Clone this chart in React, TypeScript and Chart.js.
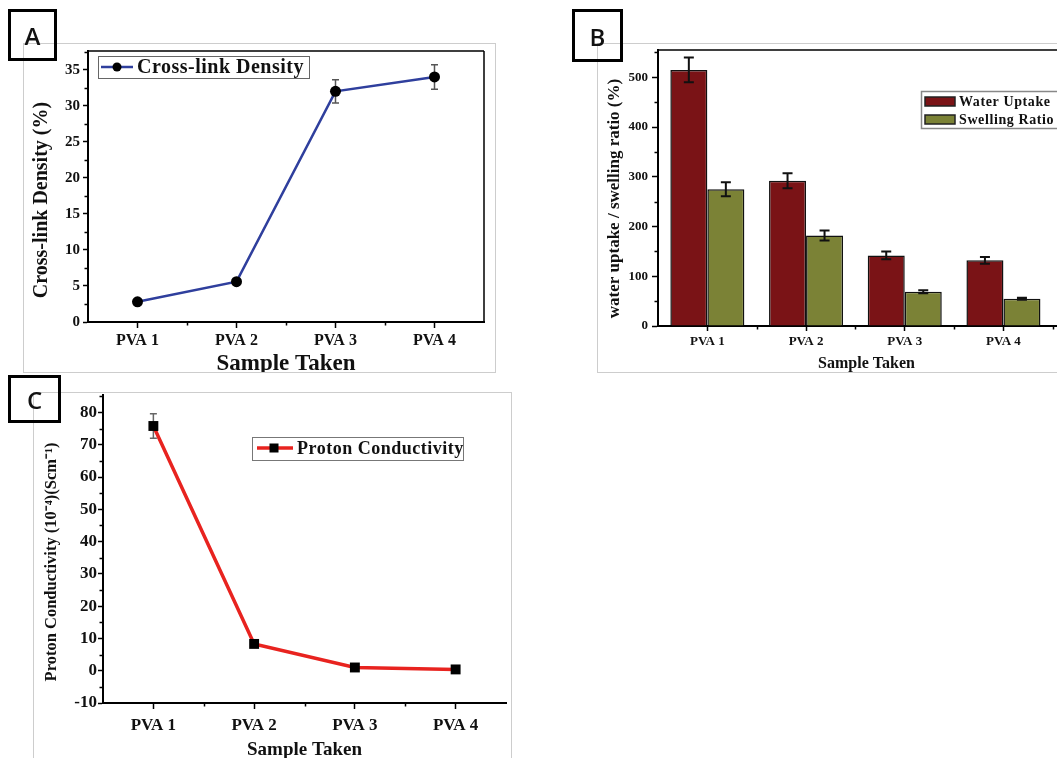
import React, { useEffect, useRef } from 'react';
import { Chart, registerables } from 'chart.js';

Chart.register(...registerables);

const SERIF = "'Liberation Serif', 'Times New Roman', Times, serif";

// ---------- data ----------
const samples = ['PVA 1', 'PVA 2', 'PVA 3', 'PVA 4'];

// Panel A
const crossLinkDensity = [2.8, 5.6, 32.0, 34.0];
const crossLinkError = [0.3, 0.3, 1.6, 1.7];

// Panel B
const waterUptake = [515, 292, 142, 132];
const waterUptakeError = [25, 15, 8, 7];
const swellingRatio = [275, 182, 69, 55];
const swellingRatioError = [14, 10, 3, 2];

// Panel C
const protonConductivity = [75.8, 8.3, 1.0, 0.4];
const protonConductivityError = [3.8, 0.4, 0.3, 0.2];

// Axis titles
const titleA = 'Cross-link Density (%)';
const titleB = 'water uptake / swelling ratio (%)';
const titleC = 'Proton Conductivity (10\u207B\u2074)(Scm\u207B\u00B9)';
const xTitle = 'Sample Taken';

// ---------- helpers ----------
const bold = (size: number) => ({ family: SERIF, size, weight: 'bold' as const, lineHeight: 1.2 });

const errorBarPlugin = {
  id: 'errorBars',
  beforeDatasetsDraw(chart: any, _a: any, opts: any) {
    if (opts && opts.layer === 'before') drawErrorBars(chart, opts);
  },
  afterDatasetsDraw(chart: any, _a: any, opts: any) {
    if (opts && opts.layer === 'after') drawErrorBars(chart, opts);
  },
};

function drawErrorBars(chart: any, opts: any) {
  const ctx = chart.ctx;
  const ys = chart.scales.y;
  chart.data.datasets.forEach((ds: any, di: number) => {
    const errs = ds.errors;
    if (!errs) return;
    const meta = chart.getDatasetMeta(di);
    meta.data.forEach((el: any, i: number) => {
      const raw = ds.data[i];
      const v = typeof raw === 'number' ? raw : raw.y;
      const x = el.x;
      const yTop = ys.getPixelForValue(v + errs[i]);
      const yBot = ys.getPixelForValue(v - errs[i]);
      ctx.save();
      ctx.strokeStyle = opts.color;
      ctx.lineWidth = opts.width;
      ctx.beginPath();
      ctx.moveTo(x, yBot);
      ctx.lineTo(x, yTop);
      ctx.moveTo(x - opts.cap, yTop);
      ctx.lineTo(x + opts.cap, yTop);
      ctx.moveTo(x - opts.cap, yBot);
      ctx.lineTo(x + opts.cap, yBot);
      ctx.stroke();
      ctx.restore();
    });
  });
}

const minorTickPlugin = {
  id: 'minorTicks',
  afterDraw(chart: any, _a: any, opts: any) {
    if (!opts || !opts.yStep) return;
    const { ctx, chartArea: ca } = chart;
    const ys = chart.scales.y;
    const xs = chart.scales.x;
    ctx.save();
    ctx.strokeStyle = '#000';
    ctx.lineWidth = opts.width;
    ctx.beginPath();
    const start = Math.ceil(ys.min / opts.yStep) * opts.yStep;
    for (let v = start; v <= ys.max + 1e-9; v += opts.yStep) {
      const r = v / opts.yMajor;
      if (Math.abs(r - Math.round(r)) < 1e-6) continue;
      const py = Math.round(ys.getPixelForValue(v)) + 0.5;
      ctx.moveTo(ca.left - opts.len, py);
      ctx.lineTo(ca.left, py);
    }
    (opts.xValues || []).forEach((xv: number) => {
      const px = Math.round(xs.getPixelForValue(xv)) + 0.5;
      ctx.moveTo(px, ca.bottom);
      ctx.lineTo(px, ca.bottom + opts.len);
    });
    ctx.stroke();
    ctx.restore();
  },
};

const framePlugin = {
  id: 'plotFrame',
  afterDraw(chart: any, _a: any, opts: any) {
    if (!opts || (!opts.top && !opts.right)) return;
    const { ctx, chartArea: ca } = chart;
    ctx.save();
    ctx.strokeStyle = '#000';
    ctx.lineWidth = opts.width;
    ctx.beginPath();
    if (opts.top) {
      ctx.moveTo(ca.left, ca.top);
      ctx.lineTo(ca.right, ca.top);
    }
    if (opts.right) {
      ctx.moveTo(ca.right, ca.top);
      ctx.lineTo(ca.right, ca.bottom);
    }
    ctx.stroke();
    ctx.restore();
  },
};

const yTitlePlugin = {
  id: 'yTitle',
  afterDraw(chart: any, _a: any, opts: any) {
    if (!opts || !opts.text) return;
    const ctx = chart.ctx;
    ctx.save();
    ctx.translate(opts.cx, opts.cy);
    ctx.rotate(-Math.PI / 2);
    ctx.fillStyle = '#111';
    ctx.font = `bold ${opts.size}px ${SERIF}`;
    ctx.textAlign = 'center';
    ctx.textBaseline = 'middle';
    ctx.fillText(opts.text, 0, 0);
    ctx.restore();
  },
};

const boxLegendPlugin = {
  id: 'boxLegend',
  afterDraw(chart: any, _a: any, opts: any) {
    if (!opts || !opts.entries) return;
    const ctx = chart.ctx;
    ctx.save();
    ctx.fillStyle = '#fff';
    ctx.fillRect(opts.x, opts.y, opts.w, opts.h);
    ctx.strokeStyle = opts.borderColor;
    ctx.lineWidth = opts.borderWidth;
    ctx.strokeRect(opts.x, opts.y, opts.w, opts.h);
    opts.entries.forEach((e: any, i: number) => {
      const ds = chart.data.datasets[i];
      if (e.kind === 'line') {
        ctx.strokeStyle = ds.borderColor;
        ctx.lineWidth = ds.borderWidth;
        ctx.beginPath();
        ctx.moveTo(e.x0, e.cy);
        ctx.lineTo(e.x1, e.cy);
        ctx.stroke();
        ctx.fillStyle = '#000';
        if (e.marker === 'circle') {
          ctx.beginPath();
          ctx.arc(e.mx, e.cy, e.ms, 0, Math.PI * 2);
          ctx.fill();
        } else {
          ctx.fillRect(e.mx - e.ms, e.cy - e.ms, e.ms * 2, e.ms * 2);
        }
      } else {
        ctx.fillStyle = ds.backgroundColor;
        ctx.fillRect(e.x0, e.cy - e.sh / 2, e.x1 - e.x0, e.sh);
        ctx.strokeStyle = '#222';
        ctx.lineWidth = 1.5;
        ctx.strokeRect(e.x0, e.cy - e.sh / 2, e.x1 - e.x0, e.sh);
      }
      ctx.fillStyle = '#111';
      ctx.font = `bold ${opts.fontSize}px ${SERIF}`;
      (ctx as any).letterSpacing = `${opts.spacing}px`;
      ctx.textBaseline = 'middle';
      ctx.textAlign = 'left';
      ctx.fillText(ds.label, e.tx, e.cy + 1);
      (ctx as any).letterSpacing = '0px';
    });
    ctx.restore();
  },
};

function axisX(titleText: string, tickSize: number, titleSize: number, tickLen: number, tickPad: number, titleBottom: number, height: number) {
  return {
    border: { display: true, color: '#000', width: 2 },
    grid: { display: true, drawOnChartArea: false, drawTicks: true, offset: false, tickLength: tickLen, tickColor: '#000', tickWidth: 1.5, color: '#000' },
    ticks: { color: '#111', font: bold(tickSize), padding: tickPad, maxRotation: 0, autoSkip: false },
    title: { display: true, text: titleText, color: '#111', font: bold(titleSize), padding: { top: 0, bottom: titleBottom } },
    afterFit: (s: any) => { s.height = height; s.paddingLeft = 0; s.paddingRight = 0; },
  };
}

function axisY(min: number, max: number, step: number, tickSize: number, tickLen: number, tickPad: number, width: number) {
  return {
    min, max,
    border: { display: true, color: '#000', width: 2 },
    grid: { display: true, drawOnChartArea: false, drawTicks: true, tickLength: tickLen, tickColor: '#000', tickWidth: 1.5, color: '#000' },
    ticks: { stepSize: step, includeBounds: false, color: '#111', font: bold(tickSize), padding: tickPad },
    title: { display: false },
    afterFit: (s: any) => { s.width = width; s.paddingTop = 0; s.paddingBottom = 0; },
  };
}

const basePlugins = { legend: { display: false }, tooltip: { enabled: false }, title: { display: false } };
const chartPlugins = [errorBarPlugin, minorTickPlugin, framePlugin, boxLegendPlugin, yTitlePlugin];

function buildA(): any {
  return {
    type: 'line',
    data: {
      labels: samples,
      datasets: [{
        label: 'Cross-link Density',
        data: crossLinkDensity,
        errors: crossLinkError,
        borderColor: '#2f3f9d',
        borderWidth: 2.5,
        pointStyle: 'circle',
        pointRadius: 5.5,
        pointBackgroundColor: '#000',
        pointBorderColor: '#000',
        pointBorderWidth: 0,
        tension: 0,
      }],
    },
    plugins: chartPlugins,
    options: {
      animation: false, responsive: false, maintainAspectRatio: false,
      layout: { autoPadding: false, padding: { top: 7, right: 12, left: 0, bottom: 0 } },
      plugins: {
        ...basePlugins,
        errorBars: { layer: 'before', color: '#555', width: 1.5, cap: 3.5 },
        minorTicks: { yStep: 2.5, yMajor: 5, len: 3.5, width: 1.5, xValues: samples.slice(1).map((_, i) => i + 0.5) },
        plotFrame: { top: true, right: true, width: 1.5 },
        yTitle: { text: titleA, cx: 18, cy: 156, size: 20 },
        boxLegend: {
          x: 74.5, y: 12.5, w: 211, h: 22, borderColor: '#666', borderWidth: 1, fontSize: 20, spacing: 0.5,
          entries: [{ kind: 'line', x0: 77, x1: 109, cy: 23, marker: 'circle', mx: 93, ms: 4.5, tx: 113 }],
        },
      },
      scales: {
        x: { type: 'category', offset: true, ...axisX(xTitle, 16, 23, 6, 3, 6, 62) },
        y: axisY(0, 37.6, 5, 15, 5, 3, 64),
      },
    },
  };
}

function buildB(): any {
  return {
    type: 'bar',
    data: {
      datasets: [
        {
          label: 'Water Uptake',
          data: waterUptake.map((v, i) => ({ x: i + 1, y: v })),
          errors: waterUptakeError,
          backgroundColor: '#7a1316',
          borderColor: '#111',
          borderWidth: 1.5,
          categoryPercentage: 0.75,
          barPercentage: 1,
        },
        {
          label: 'Swelling Ratio',
          data: swellingRatio.map((v, i) => ({ x: i + 1, y: v })),
          errors: swellingRatioError,
          backgroundColor: '#7b8236',
          borderColor: '#111',
          borderWidth: 1.5,
          categoryPercentage: 0.75,
          barPercentage: 1,
        },
      ],
    },
    plugins: chartPlugins,
    options: {
      animation: false, responsive: false, maintainAspectRatio: false,
      layout: { autoPadding: false, padding: { top: 6, right: 5, left: 0, bottom: 0 } },
      plugins: {
        ...basePlugins,
        errorBars: { layer: 'after', color: '#111', width: 2, cap: 5 },
        minorTicks: { yStep: 50, yMajor: 100, len: 3.5, width: 1.5, xValues: samples.map((_, i) => i + 1.5) },
        plotFrame: { top: true, right: true, width: 1.5 },
        yTitle: { text: titleB, cx: 17, cy: 154.5, size: 17 },
        boxLegend: {
          x: 323.5, y: 47.5, w: 160, h: 37, borderColor: '#888', borderWidth: 1.5, fontSize: 14, spacing: 0.6,
          entries: [
            { kind: 'swatch', x0: 327, x1: 357, cy: 57.5, sh: 9, tx: 361 },
            { kind: 'swatch', x0: 327, x1: 357, cy: 75.5, sh: 9, tx: 361 },
          ],
        },
      },
      scales: {
        x: {
          type: 'linear', min: 0.5, max: 4.725, offset: false,
          ...axisX(xTitle, 13, 16, 5, 3, 11, 58),
          ticks: {
            stepSize: 1, includeBounds: false, color: '#111', font: bold(13), padding: 3, maxRotation: 0, autoSkip: false,
            callback: (v: number) => samples[Math.round(v) - 1] ?? '',
          },
        },
        y: axisY(0, 555, 100, 13, 6, 4, 60),
      },
    },
  };
}

function buildC(): any {
  return {
    type: 'line',
    data: {
      labels: samples,
      datasets: [{
        label: 'Proton Conductivity',
        data: protonConductivity,
        errors: protonConductivityError,
        borderColor: '#e8231f',
        borderWidth: 3.5,
        pointStyle: 'rect',
        pointRadius: 7,
        pointBackgroundColor: '#000',
        pointBorderColor: '#000',
        pointBorderWidth: 0,
        tension: 0,
      }],
    },
    plugins: chartPlugins,
    options: {
      animation: false, responsive: false, maintainAspectRatio: false,
      layout: { autoPadding: false, padding: { top: 2, right: 5, left: 0, bottom: 0 } },
      plugins: {
        ...basePlugins,
        errorBars: { layer: 'before', color: '#666', width: 1.5, cap: 3.5 },
        minorTicks: { yStep: 5, yMajor: 10, len: 3.5, width: 1.5, xValues: samples.slice(1).map((_, i) => i + 0.5) },
        plotFrame: { top: false, right: false, width: 1.5 },
        yTitle: { text: titleC, cx: 18, cy: 169, size: 16.5 },
        boxLegend: {
          x: 218.5, y: 44.5, w: 211, h: 23, borderColor: '#777', borderWidth: 1, fontSize: 18, spacing: 0.5,
          entries: [{ kind: 'line', x0: 223, x1: 259, cy: 55, marker: 'rect', mx: 240, ms: 4.5, tx: 263 }],
        },
      },
      scales: {
        x: { type: 'category', offset: true, ...axisX(xTitle, 17, 19, 6, 6, 9, 67) },
        y: axisY(-10, 85.4, 10, 17, 5, 1, 69),
      },
    },
  };
}

type Rect = { left: number; top: number; width: number; height: number };

function ChartPanel({ frame, canvas, build }: { frame: Rect; canvas: Rect; build: () => any }) {
  const ref = useRef<HTMLCanvasElement>(null);
  useEffect(() => {
    const chart = new Chart(ref.current as HTMLCanvasElement, build());
    return () => chart.destroy();
  }, []);
  return (
    <div style={{
      position: 'absolute', left: frame.left, top: frame.top, width: frame.width, height: frame.height,
      border: '1px solid #cdcdcd', boxSizing: 'border-box', overflow: 'hidden', background: '#fff',
    }}>
      <canvas
        ref={ref}
        width={canvas.width}
        height={canvas.height}
        style={{ position: 'absolute', left: canvas.left - frame.left - 1, top: canvas.top - frame.top - 1, width: canvas.width, height: canvas.height }}
      />
    </div>
  );
}

function LetterBox({ letter, left, top, width, height }: { letter: string; left: number; top: number; width: number; height: number }) {
  return (
    <div style={{
      position: 'absolute', left, top, width, height, border: '3px solid #000', boxSizing: 'border-box',
      display: 'flex', alignItems: 'center', justifyContent: 'center',
      fontFamily: "'Open Sans', 'Liberation Sans', sans-serif", fontSize: 24, fontWeight: 600, color: '#111', lineHeight: 1,
      paddingTop: 2,
    }}>
      {letter}
    </div>
  );
}

export default function App() {
  return (
    <div style={{ position: 'absolute', left: 0, top: 0, width: 1057, height: 758, overflow: 'hidden', background: '#fff' }}>
      <ChartPanel frame={{ left: 23, top: 43, width: 473, height: 330 }} canvas={{ left: 24, top: 44, width: 472, height: 340 }} build={buildA} />
      <ChartPanel frame={{ left: 597, top: 43, width: 500, height: 330 }} canvas={{ left: 598, top: 44, width: 482, height: 340 }} build={buildB} />
      <ChartPanel frame={{ left: 33, top: 392, width: 479, height: 420 }} canvas={{ left: 34, top: 393, width: 477, height: 377 }} build={buildC} />
      <LetterBox letter="A" left={8} top={9} width={49} height={52} />
      <LetterBox letter="B" left={572} top={9} width={51} height={53} />
      <LetterBox letter="C" left={8} top={375} width={53} height={48} />
    </div>
  );
}
